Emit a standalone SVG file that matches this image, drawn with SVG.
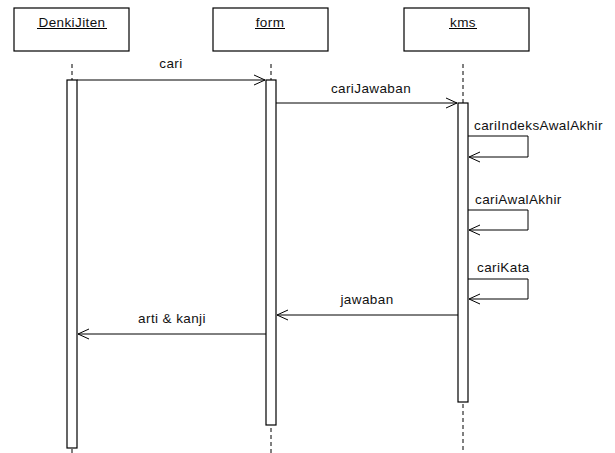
<svg xmlns="http://www.w3.org/2000/svg" width="615" height="453" viewBox="0 0 615 453">
  <style>
    text { font-family: "Liberation Sans", Arial, sans-serif; font-size: 13.5px; letter-spacing: 0.4px; fill: #111; }
    .box { fill: #fff; stroke: #000; stroke-width: 1.2; }
    .bar { fill: #fff; stroke: #000; stroke-width: 1.2; }
    .life { stroke: #000; stroke-width: 1; stroke-dasharray: 4 3; fill: none; }
    .msg { stroke: #000; stroke-width: 1; fill: none; marker-end: url(#open); }
    .mid { text-anchor: middle; }
    .ul { stroke: #000; stroke-width: 1; }
  </style>
  <defs>
    <marker id="open" viewBox="-12 -7 14 14" refX="0" refY="0" markerWidth="14" markerHeight="14" orient="auto" markerUnits="userSpaceOnUse">
      <path d="M-11,-5 L0,0 L-11,5" fill="none" stroke="#000" stroke-width="1"/>
    </marker>
  </defs>
  <rect width="615" height="453" fill="#fff"/>

  <!-- lifelines -->
  <g id="lifelines">
    <line class="life" x1="72" y1="64" x2="72" y2="80"/>
    <line class="life" x1="72" y1="449" x2="72" y2="453"/>
    <line class="life" x1="271" y1="64" x2="271" y2="80"/>
    <line class="life" x1="271" y1="428" x2="271" y2="453"/>
    <line class="life" x1="463" y1="64" x2="463" y2="103"/>
    <line class="life" x1="463" y1="404" x2="463" y2="453"/>
  </g>

  <g id="DenkiJiten">
    <rect class="box" x="14" y="8" width="115" height="43"/>
    <text class="mid" x="72" y="27">DenkiJiten</text>
    <line class="ul" x1="37" y1="28.5" x2="107" y2="28.5"/>
    <rect class="bar" x="67" y="80" width="10" height="368"/>
  </g>

  <g id="form">
    <rect class="box" x="213" y="8" width="115" height="43"/>
    <text class="mid" x="270" y="27">form</text>
    <line class="ul" x1="255" y1="28.5" x2="285" y2="28.5"/>
    <rect class="bar" x="266" y="80" width="10" height="345"/>
  </g>

  <g id="kms">
    <rect class="box" x="404" y="8" width="125" height="43"/>
    <text class="mid" x="463" y="27">kms</text>
    <line class="ul" x1="449" y1="28.5" x2="477" y2="28.5"/>
    <rect class="bar" x="458" y="103" width="10" height="299"/>
  </g>

  <!-- messages -->
  <g id="connectors">
    <line class="msg" x1="77" y1="80" x2="265" y2="80"/>
    <line class="msg" x1="276" y1="103" x2="457" y2="103"/>
    <polyline class="msg" points="468,136 528,136 528,157 469,157"/>
    <polyline class="msg" points="468,210 528,210 528,230 469,230"/>
    <polyline class="msg" points="468,279 528,279 528,299 469,299"/>
    <line class="msg" x1="458" y1="315" x2="277" y2="315"/>
    <line class="msg" x1="266" y1="334" x2="78" y2="334"/>
  </g>

  <g id="labels">
    <text class="mid" x="171" y="68">cari</text>
    <text class="mid" x="371" y="93">cariJawaban</text>
    <text x="474" y="130">cariIndeksAwalAkhir</text>
    <text x="475" y="204">cariAwalAkhir</text>
    <text x="477" y="272">cariKata</text>
    <text class="mid" x="367" y="304">jawaban</text>
    <text class="mid" x="172" y="323">arti &amp; kanji</text>
  </g>
</svg>
